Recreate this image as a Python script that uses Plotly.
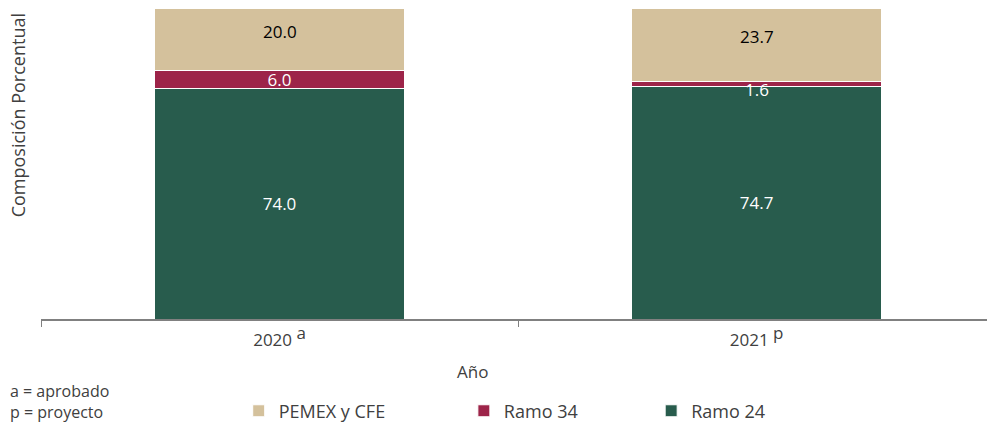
import plotly.graph_objects as go

# datos (composición porcentual)
years = ["2020 <sup><span style='font-size:17px'>a</span></sup>",
         "2021 <sup><span style='font-size:17px'>p</span></sup>"]
ramo24 = [74.0, 74.7]
ramo34 = [6.0, 1.6]
pemex_cfe = [20.0, 23.7]

FONT = "Open Sans"
fig = go.Figure()

# cada serie con su propia leyenda para colocarlas como en el original
series = [
    ("Ramo 24", ramo24, "#285C4D", "white", "legend3", True),
    ("Ramo 34", ramo34, "#9D2449", "white", "legend2", True),
    ("PEMEX y CFE", pemex_cfe, "#D4C19C", "black", "legend", False),
]
for name, vals, color, tcolor, leg, inside in series:
    # etiquetas de segmentos pequeños / PEMEX van como anotación
    labels = [f"{v:.1f}" if (v >= 3 and inside) else "" for v in vals]
    fig.add_trace(go.Bar(
        name=name, x=years, y=vals, legend=leg,
        marker=dict(color=color, line=dict(color="white", width=1)),
        text=labels, textposition="inside",
        insidetextanchor="middle",
        textfont=dict(color=tcolor, size=17, family=FONT),
    ))

annots = []
for i, v in enumerate(ramo34):
    if v < 3:
        annots.append(dict(text=f"{v:.1f}", x=years[i], y=ramo24[i] + v / 2,
                           yshift=-5, showarrow=False,
                           font=dict(size=17, color="white")))
for i, v in enumerate(pemex_cfe):
    annots.append(dict(text=f"{v:.1f}", x=years[i],
                       y=ramo24[i] + ramo34[i] + v / 2,
                       yshift=8, showarrow=False,
                       font=dict(size=17, color="black")))

annots += [
    dict(text="a = aprobado<br>p = proyecto", x=-0.035, y=-0.264, xref="paper",
         yref="paper", xanchor="left", yanchor="middle", align="left",
         showarrow=False, font=dict(size=16, color="#404040")),
    dict(text="Año", x=0.456, y=-0.17, xref="paper", yref="paper",
         xanchor="center", yanchor="middle", showarrow=False,
         font=dict(size=17, color="#404040")),
    dict(text="Composición Porcentual", x=-0.0243, y=0.655, xref="paper",
         yref="paper", textangle=-90, xanchor="center", yanchor="middle",
         showarrow=False, font=dict(size=18, color="#404040")),
]

leg_style = dict(orientation="h", y=-0.296, xanchor="left", yanchor="middle",
                 font=dict(size=18, color="#404040"), itemwidth=30,
                 bgcolor="rgba(0,0,0,0)")

fig.update_layout(
    barmode="stack", bargap=0.476,
    width=987, height=424,
    margin=dict(l=41, r=0, t=8, b=105, autoexpand=False),
    plot_bgcolor="white", paper_bgcolor="white",
    font=dict(family=FONT, size=16, color="#404040"),
    uniformtext=dict(minsize=17, mode="show"),
    showlegend=True,
    legend=dict(x=0.209, **leg_style),
    legend2=dict(x=0.447, **leg_style),
    legend3=dict(x=0.645, **leg_style),
    annotations=annots,
)
fig.update_xaxes(showline=True, linecolor="#808080", linewidth=2,
                 range=[-0.5, 1.483], ticklabelstandoff=5,
                 ticks="outside", tickson="boundaries", ticklen=6,
                 tickcolor="#808080", tickfont=dict(size=17, color="#404040"))
fig.update_yaxes(range=[0, 100], visible=False)

fig.write_html("out.html", config={"displayModeBar": False},
               post_script="document.body.style.margin='0';document.body.style.overflow='hidden';")
